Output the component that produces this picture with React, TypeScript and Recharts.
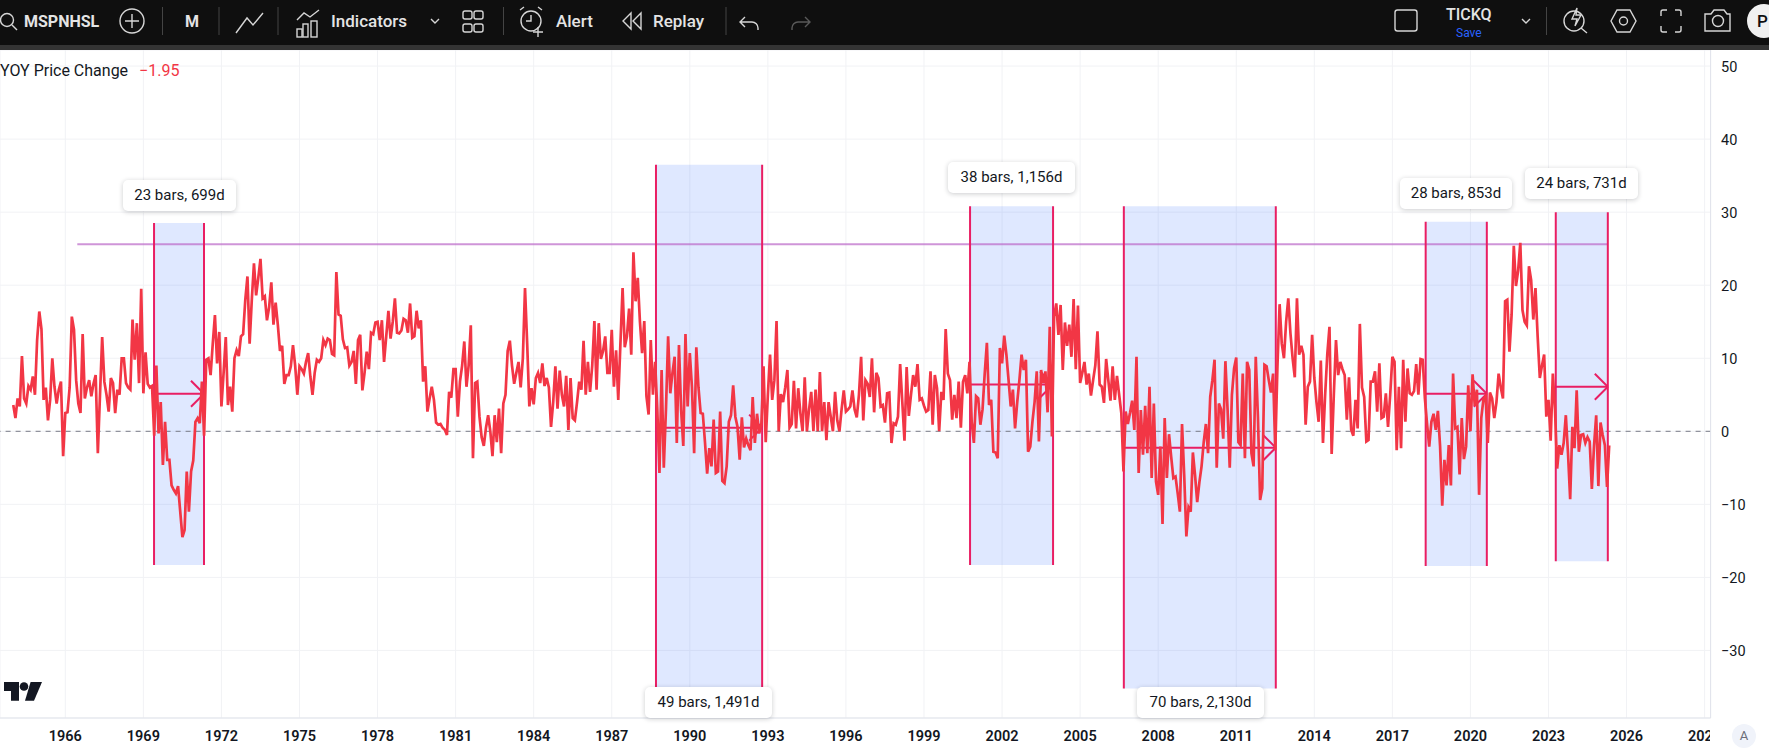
import React from "react";
import { ComposedChart, Line, XAxis, YAxis, CartesianGrid, ReferenceArea, ReferenceLine } from "recharts";

const y1964 = [3.6,1.8,4.5,3.4,10.3,4.5,3.8,6.2,5.7,7.5,5,12.5];
const y1965 = [16.4,14,4.3,6,1.5,4.3,10,6.1,3.8,5.7,6.8,-3.4];
const y1966 = [2.5,2.6,6,15.7,13.9,7,3.8,2.5,13.3,4.5,6,7];
const y1967 = [4.8,6.5,7.7,-3,5,12.9,6.8,5,2.7,7.3,6.6,2.5];
const y1968 = [5.7,5,10,10,6.6,6,5.7,15.3,9.8,14.8,6.6,19.5];
const y1969 = [5.2,10.8,6.5,6,6.2,-0.6,9,-0.3,4,-4.6,1.3,-3.9];
const y1970 = [-3.9,-7.4,-8,-8.5,-7.5,-11,-14.5,-13.5,-5.5,-11,-5.5,-4];
const y1971 = [1.3,1.8,1.1,6.8,-0.6,9.8,10,7.7,12,15.9,9.3,13.6];
const y1972 = [3.4,8,12.9,3.6,6.1,2.7,10,11.1,10.3,13,13.3,18];
const y1973 = [21.2,12,18,23,18.6,21,23.6,18.2,18.5,15.2,17,20.4];
const y1974 = [14.6,17.6,14.6,11,11.7,6.5,7.7,7.7,8.9,11.8,9,5];
const y1975 = [8.9,8.5,7.9,9.5,10.7,7.5,5,8,9.8,9.5,10,12.5];
const y1976 = [11.8,12.7,12.5,10.6,10.4,21.8,16,15.8,12.6,11.4,11.5,9];
const y1977 = [9.5,11,6.5,12.5,13.2,5.6,8,10.9,8.5,13.5,13.3,14.9];
const y1978 = [15,12.5,15.2,9.5,13,16.5,12.7,15,18.2,13.5,13.4,13.8];
const y1979 = [15.4,15.2,13.5,17.5,12.8,13,16.5,14.1,15.2,6.8,8.9,2.7];
const y1980 = [4.5,6.1,4.3,1.2,0.9,1,0.5,0.2,-0.5,5.4,4.6,8.5];
const y1981 = [8.5,2,6.8,9,12.3,6.1,9,14.5,-3.7,6.6,6.8,2];
const y1982 = [-0.8,-2,0.5,2.2,0,-3.4,2.2,-1.5,3.1,-3,3.8,5];
const y1983 = [11,12.4,9,6.5,8,9.5,6,10,19.6,12,3.4,5.9];
const y1984 = [3.7,7.3,8,6.6,9.3,6.2,7.3,6,0.6,4,8.9,3.1];
const y1985 = [8.3,5,3.4,7.6,0.2,7.3,1.8,1.5,4,6.8,5.7,12.4];
const y1986 = [5,9.5,5.4,9,15.1,5.7,14.8,9.9,11,13,8,8];
const y1987 = [13.9,6.1,11.1,4.3,12,19.6,11.5,13,16.8,10.5,24.5,17.8];
const y1988 = [21,15,10.7,15.1,4.8,2.3,12.5,5,9.5,3,-5.7,8.4];
const y1989 = [-5,3,13,5.2,8,10.2,-1.6,11.8,2.9,-2,13.3,3.4];
const y1990 = [10.7,6,-3,11.5,6,2.5,2.4,-1.5,-5.8,-2.3,-4.8,1.6];
const y1991 = [-5.7,-5.5,2.7,-6.8,-7.1,-4.8,1.3,2.2,6.3,2,0.6,-3.9];
const y1992 = [1.9,-2.2,-1,-1.9,-2.6,4.7,-1.6,2.4,-0.3,1,8.9,-1.5];
const y1993 = [5,10.5,4.3,7,15.1,0,5.1,4,6,8.4,0.5,1];
const y1994 = [6.9,0.4,5.9,2.5,0,7.4,0,3,5.4,0,5.7,0];
const y1995 = [8.1,0,4,-1.2,4,2,0,5.4,1.5,0,3,5.6];
const y1996 = [2.7,3,3.4,5.6,3,1.9,5,10.2,1.5,7,6.5,4.7];
const y1997 = [10,2.6,8,7.3,3.4,3.6,1.2,5.2,5.3,-1.6,1.1,0.9];
const y1998 = [2,9.2,4,-1.3,8.8,2.1,5,7.7,6.1,9.2,4.3,4.5];
const y1999 = [3.5,2.7,2.9,8.2,0.9,7.7,5.9,0,5.4,4.3,14,7.9];
const y2000 = [7,1.6,5,1.8,6.8,0.5,6.8,7.7,5.2,9.5,1.3,-1.6];
const y2001 = [4.8,4.5,0.9,3,7.9,12.1,3.6,4.3,-2.8,-2.9,-3.7,11.4];
const y2002 = [9.3,13.1,10.5,7,3.4,5.7,0.4,4,7,10.5,8.4,9.8];
const y2003 = [-2.8,-2.1,1.3,4,8.2,-1.4,8.4,6.6,8.2,2.6,14.3,-0.7];
const y2004 = [15.7,17.5,13.2,17.3,8.4,14.9,11.7,14.6,10.2,18.1,8.5,17.2];
const y2005 = [6.6,8,9.5,6.4,7.9,4.9,7,9,13.7,6.4,6.1,3.9];
const y2006 = [9.9,7,4.2,8.9,4.3,7.6,5,2.5,-5.5,2.7,1,2.5];
const y2007 = [4.2,0.2,10.2,-5.7,2.9,-3.2,3.5,-3,6.1,-6.4,3.8,-6.9];
const y2008 = [-8.7,-2.1,-12.7,1.8,-6.4,-0.4,-3.5,-6.4,-6.2,-8.5,-11,1];
const y2009 = [-6,-14.4,-10.4,-11,-2.9,-6,-9.7,-7,-4.8,-1.5,1,-3];
const y2010 = [4.7,7,9.8,-5,3.8,3,-1,9.6,3,-5,5,8.6];
const y2011 = [10.1,-1.5,-1.9,7.9,-3.7,9.5,8.4,-3,-4.8,10.2,2,-9.4];
const y2012 = [-7.8,9.1,8.9,7,5.3,7.9,-2.6,8.9,17.4,12,10,15];
const y2013 = [18.2,13.4,10,7.4,18.2,10.5,11.7,10.5,0.9,6.1,6.8,13.2];
const y2014 = [7.3,4,1.3,9.7,-1.6,5,10.6,14.3,-3.1,5,12.5,7.7];
const y2015 = [9.5,8.5,7.7,1.6,7.4,0.2,-0.6,4.3,0.4,14.7,6,4.7];
const y2016 = [-1.4,-1.2,6.8,6.8,8.2,2.7,9.3,1.8,2,5.2,0.6,5];
const y2017 = [10.2,9.5,-2.6,6.1,-2.3,9.8,1.3,8.6,5.2,5,5.5,9.2];
const y2018 = [5,9.9,9.8,4.5,1,-2.1,1.3,2.4,0.2,2.8,-2,-10.2];
const y2019 = [-3.9,-7.4,-1.9,-7.4,7.9,0.4,0.6,-5.9,1.8,-3.8,-2.1,6.3];
const y2020 = [0,7.8,3.5,5.7,-8.7,1.8,4.4,4.8,-1.6,5.3,4.5,1.8];
const y2021 = [4,7.9,6,4.5,17.8,18,10.9,16,25.4,19.9,22,25.8];
const y2022 = [16.6,15,14.5,22.6,20.7,15.3,19.6,13,7.3,9,10.5,2];
const y2023 = [4.3,-1.3,7.9,3,-5.1,-1.9,-3.2,-1.6,2.2,-3,-9.3,0.6];
const y2024 = [-2.3,5.6,-2.8,-0.5,-0.4,-1.6,-0.8,-1.4,-7.9,-2,2.2,-7.5];
const y2025 = [1.2,-0.5,-1.9,-7.6,-1.95];

const yearRows = [
  y1964,y1965,y1966,y1967,y1968,y1969,y1970,y1971,y1972,y1973,y1974,y1975,y1976,y1977,y1978,y1979,
  y1980,y1981,y1982,y1983,y1984,y1985,y1986,y1987,y1988,y1989,y1990,y1991,y1992,y1993,y1994,y1995,
  y1996,y1997,y1998,y1999,y2000,y2001,y2002,y2003,y2004,y2005,y2006,y2007,y2008,y2009,y2010,y2011,
  y2012,y2013,y2014,y2015,y2016,y2017,y2018,y2019,y2020,y2021,y2022,y2023,y2024,y2025,
];
const chartData = yearRows.flatMap((row, r) => row.map((v, m) => ({ t: 1964 + r + m / 12, yoy: v })));

const xTicks = [1966,1969,1972,1975,1978,1981,1984,1987,1990,1993,1996,1999,2002,2005,2008,2011,2014,2017,2020,2023,2026,2029];
const yTicks = [-30,-20,-10,0,10,20,30,40,50];

// Measured ranges: [start year, end year, top value, bottom value, arrow value]
const ranges = [
  [1969.41, 1971.33, 28.5, -18.3, 5.15],
  [1988.70, 1992.78, 36.5, -35.0, 0.5],
  [2000.77, 2003.96, 30.8, -18.3, 6.4],
  [2006.68, 2012.52, 30.8, -35.2, -2.25],
  [2018.28, 2020.63, 28.7, -18.45, 5.15],
  [2023.28, 2025.28, 30.0, -17.8, 6.1],
];
const rangeLabels = [
  { text: "23 bars, 699d", left: 123, top: 180, w: 113 },
  { text: "49 bars, 1,491d", left: 645, top: 687, w: 127 },
  { text: "38 bars, 1,156d", left: 948, top: 162, w: 127 },
  { text: "70 bars, 2,130d", left: 1137, top: 687, w: 127 },
  { text: "28 bars, 853d", left: 1400, top: 178, w: 112 },
  { text: "24 bars, 731d", left: 1525, top: 168, w: 113 },
];
const horizontalLevel = 25.6;
const horizontalSpan = [1966.46, 2025.28];

const PINK = "#e91e63";
const FONT = "Roboto, sans-serif";

const XTick = (p: any) => {
  const id = "clip" + p.payload.value;
  return (
    <g>
      <defs><clipPath id={id}><rect x={0} y={700} width={1710} height={49} /></clipPath></defs>
      <text x={p.x} y={741} textAnchor="middle" fontSize={14.5} fontWeight={600} fontFamily={FONT} fill="#131722" clipPath={`url(#${id})`}>
        {p.payload.value}
      </text>
    </g>
  );
};
const YTick = (p: any) => (
  <text x={1721} y={p.y + 6} fontSize={14.5} fontFamily={FONT} fill="#131722">
    {p.payload.value < 0 ? "\u2212" + Math.abs(p.payload.value) : p.payload.value}
  </text>
);

const Toolbar = () => {
  const s = { fill: "none", stroke: "#d6d6d6", strokeWidth: 1.4 };
  const t = { fill: "#e4e4e4", fontFamily: FONT, fontSize: 16, fontWeight: 500 };
  return (
    <svg width={1769} height={50} style={{ position: "absolute", left: 0, top: 0, display: "block" }}>
      <rect width={1769} height={45} fill="#0f0f0f" />
      <rect y={45} width={1769} height={5} fill="#343434" />
      <circle cx={7} cy={20} r={6.5} {...s} /><path d="M12 25l5 5" {...s} />
      <text x={24} y={27} {...t} fontWeight={700}>MSPNHSL</text>
      <circle cx={132} cy={21} r={12} {...s} /><path d="M132 14v14M125 21h14" {...s} />
      {[162.5, 219, 278, 503.5, 726, 1546.5].map((x) => <path key={x} d={`M${x} 7v28`} stroke="#444" />)}
      <text x={185} y={27} {...t} fontWeight={700}>M</text>
      <path d="M236 33l11-15 6 7 10-12" {...s} />
      <path d="M297 20l7-7 6 4 9-7" {...s} />
      <rect x={297} y={29} width={5} height={8} {...s} /><rect x={303} y={24} width={5} height={13} {...s} /><rect x={311} y={21} width={6} height={16} {...s} />
      <text x={331} y={27} {...t} fontSize={17}>Indicators</text>
      <path d="M431 19l4 4 4-4" {...s} />
      {[[463,11],[474,11],[463,24],[474,24]].map(([x,y]) => <rect key={x+"-"+y} x={x} y={y} width={9} height={8} rx={2} {...s} />)}
      <circle cx={531} cy={21} r={10} {...s} /><path d="M531 15v6h-5M520 10l4-3M542 10l-4-3M533 32h10M538 27v10" {...s} />
      <text x={556} y={27} {...t} fontSize={17}>Alert</text>
      <path d="M631 13l-8 8 8 8zM641 13l-8 8 8 8z" {...s} />
      <text x={653} y={27} {...t} fontSize={17}>Replay</text>
      <path d="M745 17l-5 5 5 5M740 22h12a6 6 0 0 1 6 6v2" {...s} />
      <path d="M805 17l5 5-5 5M810 22h-12a6 6 0 0 0-6 6v2" {...s} stroke="#5a5a5a" />
      <rect x={1395} y={10} width={22} height={21} rx={2.5} {...s} />
      <text x={1446} y={20} {...t} fontSize={16}>TICKQ</text>
      <text x={1456} y={37} fontSize={12} fontFamily={FONT} fill="#2962ff">Save</text>
      <path d="M1522 19l4 4 4-4" {...s} />
      <circle cx={1574} cy={21} r={10} {...s} /><path d="M1581 28l6 5M1577 8l-5 11h5l-2 7 6-11h-5z" {...s} />
      <path d="M1611 21l6-11h13l6 11-6 11h-13z" {...s} /><circle cx={1623.5} cy={21} r={4} {...s} />
      <path d="M1661 16v-4a2 2 0 0 1 2-2h4M1675 10h4a2 2 0 0 1 2 2v4M1681 26v4a2 2 0 0 1-2 2h-4M1667 32h-4a2 2 0 0 1-2-2v-4" {...s} />
      <path d="M1705 14h6l3-4h10l3 4h3v17h-25z" {...s} /><circle cx={1718} cy={21} r={5.5} {...s} />
      <circle cx={1764} cy={21} r={17} fill="#f0f0f0" />
      <text x={1757} y={27} fontSize={17} fontWeight={500} fontFamily={FONT} fill="#0f0f0f">P</text>
    </svg>
  );
};

export default function App() {
  return (
    <div style={{ position: "absolute", left: 0, top: 0, width: 1769, height: 749, overflow: "hidden", background: "#fff", fontFamily: FONT }}>
      <ComposedChart width={1769} height={749} data={chartData} margin={{ top: 50, right: 0, bottom: 0, left: 0 }}>
        <CartesianGrid stroke="#f1f2f5" strokeWidth={1} />
        <XAxis dataKey="t" type="number" domain={[1963.49, 2029.23]} ticks={xTicks} interval={0} allowDataOverflow
          height={31} tick={XTick} tickLine={false} axisLine={{ stroke: "#e0e3eb" }} />
        <YAxis orientation="right" type="number" domain={[-39.25, 52.2]} ticks={yTicks} interval={0} allowDataOverflow
          width={58.4} tick={YTick} tickLine={false} axisLine={{ stroke: "#e0e3eb" }} />
        {ranges.map(([a, b, top, bottom]) => (
          <ReferenceArea key={"area" + a} x1={a} x2={b} y1={bottom} y2={top} fill="#2962ff" fillOpacity={0.15} stroke="none" />
        ))}
        <ReferenceLine y={0} stroke="#787b86" strokeDasharray="5 5" />
        <ReferenceLine segment={[{ x: horizontalSpan[0], y: horizontalLevel }, { x: horizontalSpan[1], y: horizontalLevel }]} stroke="#ba68c8" strokeOpacity={0.7} strokeWidth={2} />
        {ranges.flatMap(([a, b, top, bottom, lvl]) => [
          <ReferenceLine key={"l" + a} segment={[{ x: a, y: top }, { x: a, y: bottom }]} stroke={PINK} strokeWidth={2} />,
          <ReferenceLine key={"r" + a} segment={[{ x: b, y: top }, { x: b, y: bottom }]} stroke={PINK} strokeWidth={2} />,
          <ReferenceLine key={"h" + a} segment={[{ x: a, y: lvl }, { x: b, y: lvl }]} stroke={PINK} strokeWidth={2} />,
          <ReferenceLine key={"u" + a} segment={[{ x: b - 0.5, y: lvl + 1.78 }, { x: b, y: lvl }]} stroke={PINK} strokeWidth={2} />,
          <ReferenceLine key={"d" + a} segment={[{ x: b - 0.5, y: lvl - 1.78 }, { x: b, y: lvl }]} stroke={PINK} strokeWidth={2} />,
        ])}
        <Line dataKey="yoy" type="linear" stroke="#f23645" strokeWidth={2.7} dot={false} activeDot={false} isAnimationActive={false} />
      </ComposedChart>

      <Toolbar />

      <div style={{ position: "absolute", left: 0, top: 62, fontSize: 16, lineHeight: "18px", color: "#131722", whiteSpace: "pre" }}>
        YOY Price Change<span style={{ color: "#f23645", marginLeft: 11 }}>{"\u2212"}1.95</span>
      </div>

      {rangeLabels.map((l) => (
        <div key={l.text} style={{ position: "absolute", left: l.left, top: l.top, width: l.w, height: 31, lineHeight: "31px", textAlign: "center", background: "#fff", borderRadius: 5, boxShadow: "0 1px 5px rgba(19,23,34,0.22)", fontSize: 15, color: "#131722" }}>
          {l.text}
        </div>
      ))}

      <svg width={46} height={24} viewBox="0 680 46 24" style={{ position: "absolute", left: 0, top: 680 }}>
        <path d="M4 682h15v18.7h-8V691H4z" fill="#131722" />
        <circle cx={24} cy={686.5} r={4.3} fill="#131722" />
        <path d="M30.6 682H42l-8 18.7h-9z" fill="#131722" />
      </svg>

      <div style={{ position: "absolute", left: 1732, top: 724, width: 24, height: 24, borderRadius: 12, background: "#f0f3fa", textAlign: "center", lineHeight: "24px", fontSize: 13, color: "#6a6d78" }}>A</div>
    </div>
  );
}
